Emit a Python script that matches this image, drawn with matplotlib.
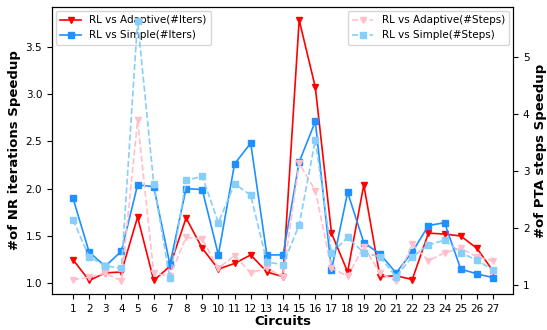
import matplotlib.pyplot as plt

circuits = list(range(1, 28))

# NR iterations speedup (left axis)
adaptive_iters = [1.25, 1.03, 1.11, 1.12, 1.70, 1.03, 1.18, 1.69, 1.37, 1.15,
                  1.21, 1.30, 1.12, 1.07, 3.78, 3.07, 1.53, 1.12, 2.04, 1.07,
                  1.08, 1.04, 1.53, 1.52, 1.50, 1.37, 1.13]
simple_iters = [1.90, 1.33, 1.18, 1.34, 2.04, 2.02, 1.20, 2.00, 1.99, 1.30,
                2.26, 2.48, 1.30, 1.30, 2.28, 2.71, 1.14, 1.96, 1.43, 1.31,
                1.11, 1.33, 1.61, 1.64, 1.15, 1.10, 1.06]

# PTA steps speedup (right axis)
adaptive_steps = [1.10, 1.14, 1.21, 1.08, 3.89, 1.21, 1.16, 1.84, 1.81, 1.30,
                  1.52, 1.22, 1.30, 1.15, 3.14, 2.66, 1.30, 1.16, 1.68, 1.21,
                  1.08, 1.72, 1.43, 1.57, 1.65, 1.50, 1.43]
simple_steps = [2.15, 1.50, 1.34, 1.30, 5.64, 2.78, 1.12, 2.84, 2.91, 2.10,
                2.78, 2.58, 1.41, 1.36, 2.06, 3.55, 1.56, 1.84, 1.57, 1.50,
                1.15, 1.50, 1.71, 1.79, 1.57, 1.44, 1.27]

fig, ax1 = plt.subplots(figsize=(5.47, 3.30), dpi=100)
fig.subplots_adjust(left=0.095, right=0.938, bottom=0.109, top=0.979)

ax1.plot(circuits, adaptive_iters, color='red', marker='v', ms=5, lw=1.2,
         label='RL vs Adaptive(#Iters)')
ax1.plot(circuits, simple_iters, color='#1E90FF', marker='s', ms=5, lw=1.2,
         label='RL vs Simple(#Iters)')
ax1.set_xlim(-0.3, 28.24)
ax1.set_ylim(0.887, 3.918)
ax1.set_xticks(circuits)
ax1.set_xticklabels([str(c) for c in circuits])
ax1.tick_params(labelsize=7.5)
ax1.set_xlabel('Circuits', fontsize=9.5, fontweight='bold', labelpad=1)
ax1.set_ylabel('#of NR iterations Speedup', fontsize=9.5, fontweight='bold', labelpad=3)
ax1.legend(loc='upper left', fontsize=7.5, borderaxespad=0.4)

ax2 = ax1.twinx()
ax2.plot(circuits, adaptive_steps, color='pink', marker='v', ms=5, lw=1.2,
         ls='--', label='RL vs Adaptive(#Steps)')
ax2.plot(circuits, simple_steps, color='lightskyblue', marker='s', ms=5, lw=1.2,
         ls='--', label='RL vs Simple(#Steps)')
ax2.set_ylim(0.847, 5.88)
ax2.set_yticks([1, 2, 3, 4, 5])
ax2.tick_params(labelsize=7.5)
ax2.set_ylabel('#of PTA steps Speedup', fontsize=9.5, fontweight='bold', labelpad=3)
ax2.legend(loc='upper right', fontsize=7.5, borderaxespad=0.4)

plt.savefig('out.png', dpi=100)
